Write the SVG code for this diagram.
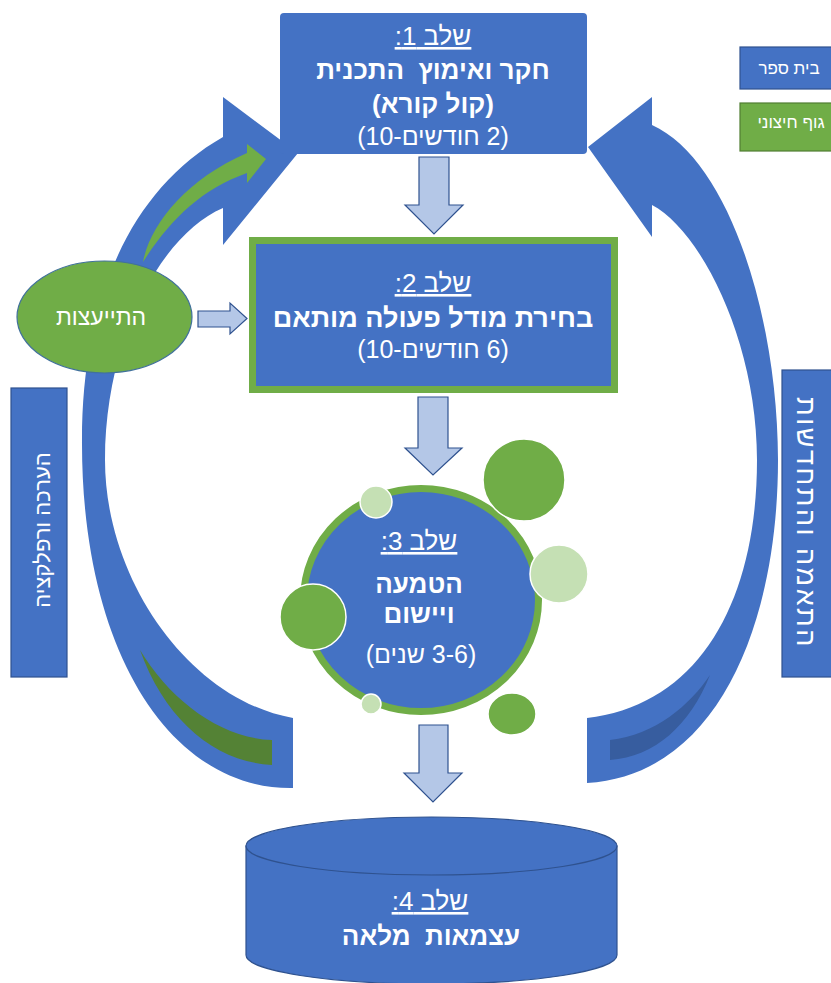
<svg xmlns="http://www.w3.org/2000/svg" width="831" height="983" viewBox="0 0 831 983">
  <style>
    .blue { fill: #4472c4; }
    .edge { stroke: #2f528f; stroke-width: 1.2; }
    .down { fill: #b4c7e7; stroke: #2f528f; stroke-width: 1.2; stroke-linejoin: miter; }
    .dot { stroke: #ffffff; stroke-width: 1.5; }
    .dark { fill: #70ad47; }
    .light { fill: #c5e0b4; }
    text { font-family: "Liberation Sans", "DejaVu Sans", Arial, sans-serif; fill: #ffffff; direction: rtl; unicode-bidi: embed; text-anchor: middle; }
    .head { font-size: 26px; text-decoration: underline; }
    .title { font-size: 26px; font-weight: bold; }
    .note { font-size: 25px; }
    .legend { font-size: 17px; }
  </style>

  <!-- connectors: loop arrows and flow arrows -->
  <g id="connectors">
    <!-- left loop arrow (evaluation) -->
    <path class="blue" d="M293,718 C190,700 105,580 105,460 C105,340 160,235 223,208 L223,245 L298,153 L223,97 L223,137 C130,190 82,300 82,440 C81,650 170,790 293,788 Z"/>
    <path fill="#548235" d="M140,650 C170,700 220,738 272,740 L272,765 C215,762 165,720 140,650 Z"/>
    <path fill="#70ad47" d="M143,262 C150,225 185,180 247,153 L247,144 L266,159 L247,183 L247,173 C200,190 170,220 143,262 Z"/>

    <!-- right loop arrow (adaptation) -->
    <path class="blue" d="M587,718 C700,705 757,600 757,460 C757,340 700,230 652,205 L652,237 L588,147 L652,97 L652,125 C730,160 778,320 778,460 C778,620 720,775 587,783 Z"/>
    <path fill="#375d9f" d="M710,675 C690,705 655,735 610,740 L610,760 C655,757 690,725 710,675 Z"/>

    <!-- flow arrows -->
    <polygon class="down" points="419,157 449,157 449,205 463,205 434,234 405,205 419,205"/>
    <polygon class="down" points="418,397 448,397 448,448 462,448 433,475 405,448 418,448"/>
    <polygon class="down" points="419,725 448,725 448,773 462,773 433,802 404,773 419,773"/>
    <polygon class="down" points="198,311 230,311 230,303 247,318.5 230,334 230,327 198,327"/>
  </g>

  <!-- stage 1 -->
  <g id="stage1">
    <rect class="blue" x="280" y="13" width="307" height="141" rx="4"/>
    <text class="head" x="433" y="45">&#x202B;שלב 1:&#x202C;</text>
    <text class="title" x="433" y="79" xml:space="preserve">חקר ואימוץ  התכנית</text>
    <text class="title" x="433" y="113">&#x202B;(קול קורא)&#x202C;</text>
    <text class="note" x="433" y="145">&#x202B;(2 חודשים-10)&#x202C;</text>
  </g>

  <!-- stage 2 -->
  <g id="stage2">
    <rect class="blue" x="252.5" y="240.5" width="362" height="149" stroke="#70ad47" stroke-width="7"/>
    <text class="head" x="433" y="292">&#x202B;שלב 2:&#x202C;</text>
    <text class="title" x="433" y="327" style="font-size:27px">בחירת מודל פעולה מותאם</text>
    <text class="note" x="433" y="358">&#x202B;(6 חודשים-10)&#x202C;</text>
  </g>

  <!-- stage 3 with satellite dots -->
  <g id="stage3">
    <ellipse class="blue" cx="421" cy="600" rx="117.5" ry="111.5" stroke="#70ad47" stroke-width="7"/>
    <circle class="dark dot" cx="524" cy="480" r="41"/>
    <circle class="light dot" cx="376" cy="502" r="16"/>
    <circle class="light dot" cx="559" cy="574" r="29"/>
    <circle class="dark dot" cx="313" cy="617" r="33"/>
    <circle class="light dot" cx="371" cy="704" r="10"/>
    <ellipse class="dark dot" cx="512" cy="714" rx="24" ry="21"/>
    <text class="head" x="419" y="550">&#x202B;שלב 3:&#x202C;</text>
    <text class="title" x="419" y="593">הטמעה</text>
    <text class="title" x="419" y="623">ויישום</text>
    <text class="note" x="421" y="663">&#x202B;(3-6 שנים)&#x202C;</text>
  </g>

  <!-- stage 4 -->
  <g id="stage4">
    <path class="blue edge" d="M246,846 L246,955 A185.5,29 0 0 0 617,955 L617,846 Z"/>
    <ellipse class="blue edge" cx="431.5" cy="846" rx="185.5" ry="29"/>
    <text class="head" x="430" y="910">&#x202B;שלב 4:&#x202C;</text>
    <text class="title" x="431" y="945" xml:space="preserve">עצמאות  מלאה</text>
  </g>

  <!-- consultation -->
  <g id="consult">
    <ellipse cx="104.5" cy="317" rx="87.5" ry="56" fill="#70ad47" stroke="#41719c" stroke-width="1.2"/>
    <text x="101" y="325" style="font-size:23px">התייעצות</text>
  </g>

  <!-- side labels -->
  <g id="evaluation">
    <rect class="blue edge" x="11" y="388" width="56" height="289"/>
    <text transform="translate(50,530) rotate(-90)" style="font-size:22px">הערכה ורפלקציה</text>
  </g>
  <g id="adaptation">
    <rect class="blue edge" x="782" y="370" width="55" height="307"/>
    <text transform="translate(797,523) rotate(90)" style="font-size:27px; letter-spacing:2.5px">התאמה והתחדשות</text>
  </g>

  <!-- legend -->
  <g id="legend-school">
    <rect class="blue edge" x="740" y="47" width="96" height="42"/>
    <text class="legend" x="789" y="74">בית ספר</text>
  </g>
  <g id="legend-external">
    <rect x="740" y="103" width="96" height="48" fill="#70ad47" stroke="#507e32" stroke-width="1.2"/>
    <text class="legend" x="791" y="128">גוף חיצוני</text>
  </g>
</svg>
